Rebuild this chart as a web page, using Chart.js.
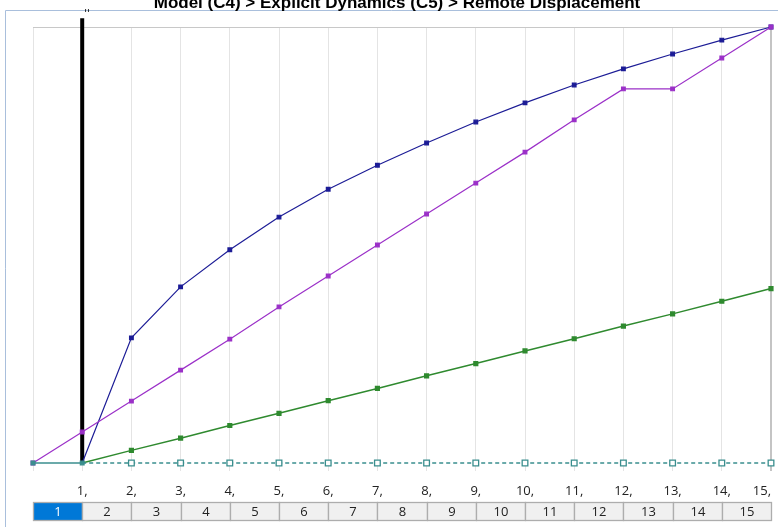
<!DOCTYPE html>
<html>
<head>
<meta charset="utf-8">
<script src="https://cdn.jsdelivr.net/npm/chart.js@4.4.1/dist/chart.umd.min.js"></script>
<style>
  html, body { margin: 0; padding: 0; background: #fff; }
  #wrap { width: 778px; height: 527px; position: relative; }
</style>
</head>
<body>
<div id="wrap"><canvas id="chart" width="778" height="527"></canvas></div>
<script>
const TITLE = 'Model (C4) > Explicit Dynamics (C5) > Remote Displacement';
const steps = [0, 1, 2, 3, 4, 5, 6, 7, 8, 9, 10, 11, 12, 13, 14, 15];
const stepCells = ['1', '2', '3', '4', '5', '6', '7', '8', '9', '10', '11', '12', '13', '14', '15'];
const blueVals = [null, 0, 0.287, 0.404, 0.489, 0.564, 0.628, 0.683, 0.734, 0.782, 0.826, 0.867, 0.904, 0.938, 0.970, 1];
const purpleVals = [0, 0.071, 0.142, 0.213, 0.284, 0.358, 0.429, 0.5, 0.571, 0.642, 0.713, 0.787, 0.858, 0.858, 0.929, 1];
const greenVals = [null, 0, 0.029, 0.057, 0.086, 0.114, 0.143, 0.171, 0.2, 0.228, 0.257, 0.285, 0.314, 0.342, 0.371, 0.4];
const tealVals = [0, 0, 0, 0, 0, 0, 0, 0, 0, 0, 0, 0, 0, 0, 0, 0];
const cursorX = [1, 1];
const cursorY = [0, 1.02];
const activeCell = 0;

const BLUE = '#1c1c96';
const PURPLE = '#9b30c8';
const GREEN = '#2f8a2f';
const TEAL = '#3a8e8e';

const pts = (vals, xs = steps) => vals.map((v, i) => ({ x: xs[i], y: v }));

// frame, title and the step table under the axis
const decor = {
  id: 'decor',
  beforeDraw(chart) {
    const ctx = chart.ctx;
    ctx.save();
    ctx.strokeStyle = '#a9bfdc';
    ctx.lineWidth = 1;
    ctx.beginPath();
    ctx.moveTo(5.5, 527);
    ctx.lineTo(5.5, 10.5);
    ctx.lineTo(778, 10.5);
    ctx.stroke();
    ctx.restore();
  },
  afterDraw(chart) {
    const ctx = chart.ctx;
    const xs = chart.scales.x;
    ctx.save();
    ctx.fillStyle = '#000';
    ctx.font = 'bold 17px "Liberation Sans", Arial, sans-serif';
    ctx.textAlign = 'center';
    ctx.textBaseline = 'alphabetic';
    ctx.fillText(TITLE, 397, 8);

    ctx.font = '10px "DejaVu Sans", sans-serif';
    ctx.textAlign = 'left';
    ctx.fillText("''", xs.getPixelForValue(cursorX[0]) + 2, 17);

    ctx.font = '13px "Open Sans", "Noto Sans", sans-serif';
    ctx.textAlign = 'center';
    ctx.textBaseline = 'middle';
    stepCells.forEach((t, i) => {
      const x0 = Math.round(xs.getPixelForValue(steps[i])) + 0.5;
      const x1 = Math.round(xs.getPixelForValue(steps[i + 1])) + 0.5;
      const y0 = 502.5, h = 18;
      ctx.fillStyle = i === activeCell ? '#0078d7' : '#f0f0f0';
      ctx.fillRect(x0, y0, x1 - x0, h);
      ctx.strokeStyle = '#adadad';
      ctx.strokeRect(x0, y0, x1 - x0, h);
      ctx.fillStyle = i === activeCell ? '#fff' : '#222';
      ctx.fillText(t, (x0 + x1) / 2, y0 + h / 2 + 1);
    });
    ctx.restore();
  }
};

new Chart(document.getElementById('chart'), {
  type: 'line',
  data: {
    datasets: [
      {
        data: pts(tealVals),
        borderColor: TEAL,
        borderWidth: 1.5,
        clip: false,
        pointStyle: 'rect',
        pointRadius: steps.map(s => (s <= 1 ? 2.6 : 4)),
        pointBackgroundColor: steps.map(s => (s <= 1 ? TEAL : '#fff')),
        pointBorderColor: TEAL,
        pointBorderWidth: 1.3,
        segment: { borderDash: c => (c.p0DataIndex >= 1 ? [4, 3] : undefined) },
      },
      {
        data: pts(purpleVals),
        borderColor: PURPLE,
        backgroundColor: PURPLE,
        borderWidth: 1.2,
        clip: false,
        pointStyle: 'rect',
        pointRadius: 2.6,
      },
      {
        data: pts(blueVals),
        borderColor: BLUE,
        backgroundColor: BLUE,
        borderWidth: 1.2,
        clip: false,
        pointStyle: 'rect',
        pointRadius: steps.map(s => (s <= 1 ? 0 : 2.6)),
      },
      {
        data: pts(greenVals),
        borderColor: GREEN,
        backgroundColor: GREEN,
        borderWidth: 1.5,
        clip: false,
        pointStyle: 'rect',
        pointRadius: steps.map(s => (s <= 1 ? 0 : 2.6)),
      },
      {
        data: pts(cursorY, cursorX),
        borderColor: '#000',
        borderWidth: 4,
        pointRadius: 0,
        clip: false,
      },
    ],
  },
  options: {
    responsive: false,
    animation: false,
    events: [],
    layout: { padding: { left: 33, right: 7, top: 27, bottom: 0 } },
    plugins: { legend: { display: false }, tooltip: { enabled: false } },
    scales: {
      x: {
        type: 'linear',
        min: 0,
        max: 15,
        afterFit: s => { s.height = 64; s.paddingLeft = 0; s.paddingRight = 0; },
        border: { display: false },
        grid: {
          color: c => (c.tick && c.tick.value === 15 ? '#c4c4c4' : '#e4e4e4'),
          lineWidth: c => (c.tick && c.tick.value === 15 ? 2 : 1),
          tickLength: 8,
        },
        ticks: {
          stepSize: 1,
          align: 'inner',
          padding: 12,
          maxRotation: 0,
          color: '#222',
          font: { family: '"Open Sans", "Noto Sans", sans-serif', size: 13 },
          callback: v => (v === 0 ? '' : v + ','),
        },
      },
      y: {
        min: 0,
        max: 1,
        afterFit: s => { s.width = 0; },
        border: { display: false },
        grid: {
          drawTicks: false,
          color: c => (c.tick && c.tick.value === 1 ? '#c8c8c8' : 'rgba(0,0,0,0)'),
        },
        ticks: { display: false, stepSize: 1 },
      },
    },
  },
  plugins: [decor],
});
</script>
</body>
</html>
